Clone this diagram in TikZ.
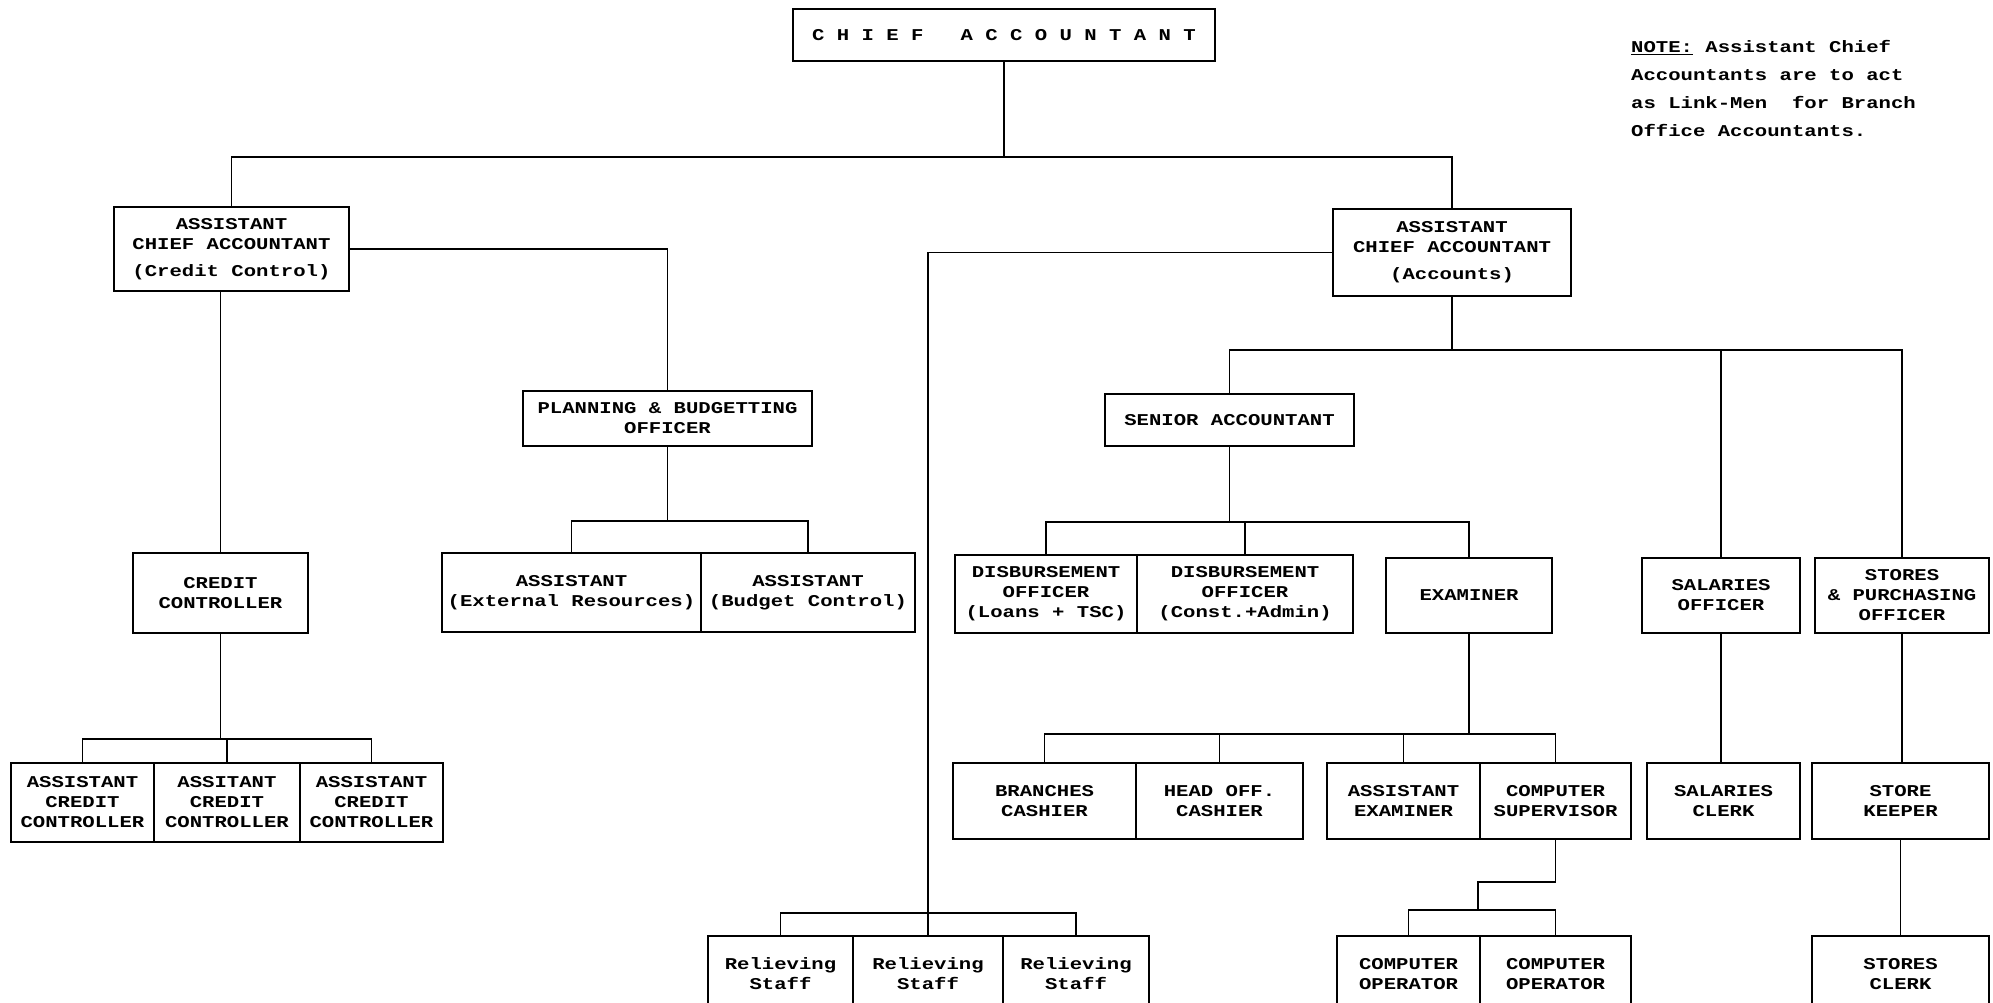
\documentclass[tikz,border=0pt]{standalone}
\usepackage{fontspec}
\newfontfamily\tw[FakeStretch=1.25]{Liberation Mono}
\tikzset{
  bx/.style={draw, line width=2.2pt, inner sep=0pt, outer sep=0pt, align=center,
    font=\tw\bfseries\fontsize{16.5}{20}\selectfont},
  ln/.style={line width=1.8pt, line cap=rect},
}
\begin{document}
\begin{tikzpicture}[x=1pt,y=-1pt]
\fill[white] (0,0) rectangle (1993,1003);
\useasboundingbox (0,0) rectangle (1993,1003);
% boxes
\node[bx, minimum width=422, minimum height=52] (chief) at (1004,35) {C~H~I~E~F~~~A~C~C~O~U~N~T~A~N~T};
\node[bx, minimum width=235, minimum height=84] (acc1) at (231.5,249) {ASSISTANT\\CHIEF ACCOUNTANT\\[7pt](Credit Control)};
\node[bx, minimum width=238, minimum height=87] (acc2) at (1452,252.5) {ASSISTANT\\CHIEF ACCOUNTANT\\[7pt](Accounts)};
\node[bx, minimum width=289, minimum height=55] (plan) at (667.5,418.5) {PLANNING \& BUDGETTING\\OFFICER};
\node[bx, minimum width=259, minimum height=79] (astext) at (571.5,592.5) {ASSISTANT\\(External Resources)};
\node[bx, minimum width=214, minimum height=79] (asbud) at (808,592.5) {ASSISTANT\\(Budget Control)};
\node[bx, minimum width=175, minimum height=80] (cc) at (220.5,593) {CREDIT\\CONTROLLER};
\node[bx, minimum width=143, minimum height=79] (acca) at (82.5,802.5) {ASSISTANT\\CREDIT\\CONTROLLER};
\node[bx, minimum width=146, minimum height=79] (accb) at (227,802.5) {ASSITANT\\CREDIT\\CONTROLLER};
\node[bx, minimum width=143, minimum height=79] (accc) at (371.5,802.5) {ASSISTANT\\CREDIT\\CONTROLLER};
\node[bx, minimum width=249, minimum height=52] (senior) at (1229.5,420) {SENIOR ACCOUNTANT};
\node[bx, minimum width=182, minimum height=78] (disb1) at (1046,594) {DISBURSEMENT\\OFFICER\\(Loans + TSC)};
\node[bx, minimum width=216, minimum height=78] (disb2) at (1245,594) {DISBURSEMENT\\OFFICER\\(Const.+Admin)};
\node[bx, minimum width=166, minimum height=75] (exam) at (1469,595.5) {EXAMINER};
\node[bx, minimum width=158, minimum height=75] (salo) at (1721,595.5) {SALARIES\\OFFICER};
\node[bx, minimum width=174, minimum height=75] (stoo) at (1902,595.5) {STORES\\\& PURCHASING\\OFFICER};
\node[bx, minimum width=183, minimum height=76] (branch) at (1044.5,801) {BRANCHES\\CASHIER};
\node[bx, minimum width=167, minimum height=76] (headoff) at (1219.5,801) {HEAD OFF.\\CASHIER};
\node[bx, minimum width=153, minimum height=76] (asexam) at (1403.5,801) {ASSISTANT\\EXAMINER};
\node[bx, minimum width=151, minimum height=76] (compsup) at (1555.5,801) {COMPUTER\\SUPERVISOR};
\node[bx, minimum width=153, minimum height=76] (salc) at (1723.5,801) {SALARIES\\CLERK};
\node[bx, minimum width=177, minimum height=76] (keeper) at (1900.5,801) {STORE\\KEEPER};
\node[bx, minimum width=145, minimum height=76] (rel1) at (780.5,974) {Relieving\\Staff};
\node[bx, minimum width=150, minimum height=76] (rel2) at (928,974) {Relieving\\Staff};
\node[bx, minimum width=146, minimum height=76] (rel3) at (1076,974) {Relieving\\Staff};
\node[bx, minimum width=143, minimum height=76] (op1) at (1408.5,974) {COMPUTER\\OPERATOR};
\node[bx, minimum width=151, minimum height=76] (op2) at (1555.5,974) {COMPUTER\\OPERATOR};
\node[bx, minimum width=177, minimum height=76] (stc) at (1900.5,974) {STORES\\CLERK};
% note
\node[anchor=north west, inner sep=0pt, align=left,
  font=\tw\bfseries\fontsize{16.5}{28}\selectfont] (note) at (1631,40)
  {\underline{NOTE:} Assistant Chief\\Accountants are to act\\as Link-Men~~for Branch\\Office Accountants.};
% connectors
\coordinate (cj) at (1478,910);
\draw[ln] (chief.south) -- (chief.south |- 0,157);
\draw[ln] (acc1.north) -- (acc1.north |- 0,157) -- (acc2.north |- 0,157) -- (acc2.north);
\draw[ln] (acc1.east) -| (plan.north);
\draw[ln] (acc1.south -| cc.north) -- (cc.north);
\draw[ln] (plan.south) -- (plan.south |- 0,521);
\draw[ln] (astext.north) -- (astext.north |- 0,521) -- (asbud.north |- 0,521) -- (asbud.north);
\draw[ln] (cc.south) -- (cc.south |- 0,739);
\draw[ln] (acca.north) -- (acca.north |- 0,739) -- (accc.north |- 0,739) -- (accc.north);
\draw[ln] (accb.north) -- (accb.north |- 0,739);
\draw[ln] (acc2.west) -| (rel2.north |- 0,913);
\draw[ln] (rel1.north) -- (rel1.north |- 0,913) -- (rel3.north |- 0,913) -- (rel3.north);
\draw[ln] (rel2.north) -- (rel2.north |- 0,913);
\draw[ln] (acc2.south) -- (acc2.south |- 0,350);
\draw[ln] (senior.north) -- (senior.north |- 0,350) -- (stoo.north |- 0,350) -- (stoo.north);
\draw[ln] (salo.north) -- (salo.north |- 0,350);
\draw[ln] (senior.south) -- (senior.south |- 0,522);
\draw[ln] (disb1.north) -- (disb1.north |- 0,522) -- (exam.north |- 0,522) -- (exam.north);
\draw[ln] (disb2.north) -- (disb2.north |- 0,522);
\draw[ln] (exam.south) -- (exam.south |- 0,734);
\draw[ln] (branch.north) -- (branch.north |- 0,734) -- (compsup.north |- 0,734) -- (compsup.north);
\draw[ln] (headoff.north) -- (headoff.north |- 0,734);
\draw[ln] (asexam.north) -- (asexam.north |- 0,734);
\draw[ln] (compsup.south) -- (compsup.south |- 0,882) -| (cj);
\draw[ln] (op1.north) -- (op1.north |- cj) -- (op2.north |- cj) -- (op2.north);
\draw[ln] (salo.south) -- (salo.south |- salc.north);
\draw[ln] (stoo.south) -- (stoo.south |- keeper.north);
\draw[ln] (keeper.south) -- (keeper.south |- stc.north);
\end{tikzpicture}
\end{document}
